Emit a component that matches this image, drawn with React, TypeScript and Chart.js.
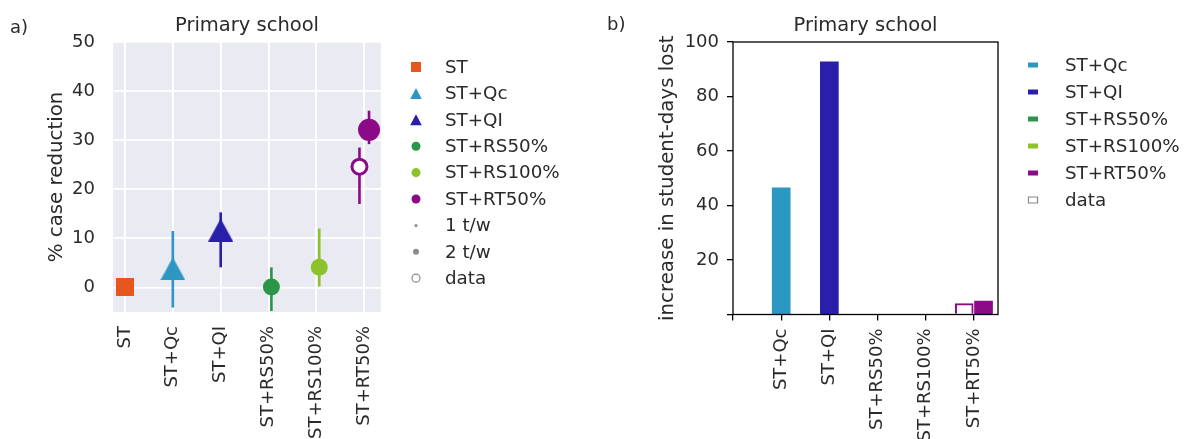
import React, { useEffect, useRef } from 'react';
import { Chart, registerables } from 'chart.js';

Chart.register(...registerables);

// ---------------- data ----------------
const categories = ['ST', 'ST+Qc', 'ST+QI', 'ST+RS50%', 'ST+RS100%', 'ST+RT50%'];

// panel a) % case reduction (model) with error range
const caseReduction = [0, 3.8, 11.7, 0.1, 4.1, 32.1];
const caseReductionLow = [null, -4.1, 4.1, -4.8, 0.2, 29.2];
const caseReductionHigh = [null, 11.5, 15.3, 4.1, 12.0, 36.0];
// panel a) observed data
const observedCaseReduction = [null, null, null, null, null, 24.6];
const observedCaseReductionLow = [null, null, null, null, null, 17.0];
const observedCaseReductionHigh = [null, null, null, null, null, 28.5];

// panel b) increase in student-days lost
const studentDaysLost = [0, 46.5, 92.7, 0, 0, 4.9];
const observedStudentDaysLost = [null, null, null, null, null, 4.0];

const yTicksA = [0, 10, 20, 30, 40, 50];
const yTicksB = [0, 20, 40, 60, 80, 100];

const legendA = ['ST', 'ST+Qc', 'ST+QI', 'ST+RS50%', 'ST+RS100%', 'ST+RT50%', '1 t/w', '2 t/w', 'data'];
const legendB = ['ST+Qc', 'ST+QI', 'ST+RS50%', 'ST+RS100%', 'ST+RT50%', 'data'];

// ---------------- styles ----------------
const colors = ['#e6561d', '#2c98c2', '#2a1fab', '#2b9647', '#8cc22b', '#8a0a87'];
const markerKinds = ['square', 'triangle', 'triangle', 'circle', 'circle', 'circle'];
const markerRadius = [9, 12, 12, 8.5, 8.5, 11];
const dodgeA = [0, 0, 0, 0.06, 0.06, 0.1];
const dodgeB = 0.2;
const FONT = "'DejaVu Sans', sans-serif";
const TXT = '#2a2a2a';
const TICK_SIZE = 18;
const TITLE_SIZE = 19.5;
const AXIS_TITLE_SIZE = 19.8;
const LEGEND_SIZE = 18.3;

function shapeImage(kind: string, color: string, w: number, h: number) {
  const c = document.createElement('canvas');
  c.width = w;
  c.height = h;
  const ctx = c.getContext('2d')!;
  ctx.fillStyle = color;
  ctx.beginPath();
  if (kind === 'triangle') {
    ctx.moveTo(w / 2, 0);
    ctx.lineTo(w, h);
    ctx.lineTo(0, h);
    ctx.closePath();
  } else {
    ctx.rect(0, 0, w, h);
  }
  ctx.fill();
  return c;
}

function drawLegendMarker(ctx: CanvasRenderingContext2D, kind: string, color: string, x: number, y: number, r: number) {
  ctx.save();
  ctx.fillStyle = color;
  ctx.strokeStyle = color;
  ctx.beginPath();
  if (kind === 'square') {
    ctx.rect(x - r, y - r, 2 * r, 2 * r);
    ctx.fill();
  } else if (kind === 'triangle') {
    ctx.moveTo(x, y - r);
    ctx.lineTo(x + r * 1.05, y + r);
    ctx.lineTo(x - r * 1.05, y + r);
    ctx.closePath();
    ctx.fill();
  } else if (kind === 'circle') {
    ctx.arc(x, y, r, 0, Math.PI * 2);
    ctx.fill();
  } else if (kind === 'hollowCircle') {
    ctx.lineWidth = 1.2;
    ctx.arc(x, y, r, 0, Math.PI * 2);
    ctx.fillStyle = '#fff';
    ctx.fill();
    ctx.stroke();
  } else if (kind === 'bar') {
    ctx.rect(x - 5, y - 2.5, 10, 5);
    ctx.fill();
  } else if (kind === 'hollowBar') {
    ctx.lineWidth = 1.2;
    ctx.rect(x - 4.5, y - 3, 9, 6);
    ctx.fillStyle = '#fff';
    ctx.fill();
    ctx.stroke();
  }
  ctx.restore();
}

function labelPlugin(id: string, text: string, x: number, y: number) {
  return {
    id,
    afterDraw(chart: any) {
      const ctx = chart.ctx;
      ctx.save();
      ctx.font = `18px ${FONT}`;
      ctx.fillStyle = TXT;
      ctx.textBaseline = 'middle';
      ctx.textAlign = 'left';
      ctx.fillText(text, x, y);
      ctx.restore();
    },
  };
}

function legendPlugin(id: string, items: { label: string; kind: string; color: string; r: number }[], mx: number, tx: number, y0: number, step: number) {
  return {
    id,
    afterDraw(chart: any) {
      const ctx = chart.ctx;
      ctx.save();
      ctx.font = `${LEGEND_SIZE}px ${FONT}`;
      ctx.textBaseline = 'middle';
      ctx.textAlign = 'left';
      items.forEach((it, i) => {
        const y = y0 + i * step;
        drawLegendMarker(ctx, it.kind, it.color, mx, y, it.r);
        ctx.fillStyle = TXT;
        ctx.fillText(it.label, tx, y + 1);
      });
      ctx.restore();
    },
  };
}

const bgPlugin = {
  id: 'bgA',
  beforeDraw(chart: any) {
    const { ctx, chartArea } = chart;
    ctx.save();
    ctx.fillStyle = '#eaeaf2';
    ctx.fillRect(chartArea.left, chartArea.top, chartArea.right - chartArea.left, chartArea.bottom - chartArea.top);
    ctx.restore();
  },
};

const framePlugin = {
  id: 'frameB',
  afterDraw(chart: any) {
    const { ctx, chartArea } = chart;
    ctx.save();
    ctx.strokeStyle = '#000';
    ctx.lineWidth = 1.3;
    ctx.strokeRect(chartArea.left, chartArea.top, chartArea.right - chartArea.left, chartArea.bottom - chartArea.top);
    ctx.restore();
  },
};

export default function App() {
  const refA = useRef<HTMLCanvasElement>(null);
  const refB = useRef<HTMLCanvasElement>(null);

  useEffect(() => {
    // ---------- panel a ----------
    const markerStyle = (i: number) => {
      const kind = markerKinds[i];
      if (kind === 'square') return shapeImage('square', colors[i], 18, 18);
      if (kind === 'triangle') return shapeImage('triangle', colors[i], 25, 23);
      return 'circle';
    };

    const datasetsA: any[] = [];
    // observed data (hollow circle)
    categories.forEach((c, i) => {
      if (observedCaseReduction[i] == null) return;
      datasetsA.push({
        type: 'line',
        label: c + ' data',
        data: [{ x: i - dodgeA[i], y: observedCaseReduction[i] }],
        showLine: false,
        pointStyle: 'circle',
        pointRadius: 7.5,
        pointBackgroundColor: '#ffffff',
        pointBorderColor: colors[i],
        pointBorderWidth: 3,
      });
    });
    // model markers
    categories.forEach((c, i) => {
      datasetsA.push({
        type: 'line',
        label: c,
        data: [{ x: i + dodgeA[i], y: caseReduction[i] }],
        showLine: false,
        pointStyle: markerStyle(i),
        pointRadius: markerRadius[i],
        pointBackgroundColor: colors[i],
        pointBorderWidth: 0,
      });
    });
    // error bars
    categories.forEach((c, i) => {
      if (caseReductionLow[i] != null) {
        datasetsA.push({
          type: 'line',
          label: c + ' range',
          data: [
            { x: i + dodgeA[i], y: caseReductionLow[i] },
            { x: i + dodgeA[i], y: caseReductionHigh[i] },
          ],
          borderColor: colors[i],
          borderWidth: 2.6,
          pointRadius: 0,
        });
      }
      if (observedCaseReductionLow[i] != null) {
        datasetsA.push({
          type: 'line',
          label: c + ' data range',
          data: [
            { x: i - dodgeA[i], y: observedCaseReductionLow[i] },
            { x: i - dodgeA[i], y: observedCaseReductionHigh[i] },
          ],
          borderColor: colors[i],
          borderWidth: 2.6,
          pointRadius: 0,
        });
      }
    });

    const itemsA = legendA.map((label, i) => {
      if (i < categories.length) {
        return { label, kind: markerKinds[i], color: colors[i], r: markerKinds[i] === 'circle' ? 4.5 : markerKinds[i] === 'triangle' ? 5.5 : 5 };
      }
      if (label === '1 t/w') return { label, kind: 'circle', color: '#8a8a8a', r: 1.5 };
      if (label === '2 t/w') return { label, kind: 'circle', color: '#8a8a8a', r: 3 };
      return { label, kind: 'hollowCircle', color: '#8a8a8a', r: 4 };
    });

    const tickFont = { family: FONT, size: TICK_SIZE };
    const titleFont = { family: FONT, size: AXIS_TITLE_SIZE };

    const chartA = new Chart(refA.current!, {
      type: 'line',
      data: { datasets: datasetsA },
      options: {
        animation: false,
        responsive: false,
        layout: { padding: { left: 0, right: 219, top: 0, bottom: 0 } },
        plugins: {
          legend: { display: false },
          tooltip: { enabled: false },
          title: {
            display: true,
            text: 'Primary school',
            fullSize: false,
            color: TXT,
            font: { family: FONT, size: TITLE_SIZE, weight: 'normal' },
            padding: { top: 14, bottom: 4.6 },
          },
        },
        scales: {
          x: {
            type: 'linear',
            min: -0.25,
            max: 5.35,
            afterBuildTicks: (s: any) => {
              s.ticks = categories.map((_, i) => ({ value: i }));
            },
            afterFit: (s: any) => {
              s.height = 127;
            },
            ticks: {
              autoSkip: false,
              minRotation: 90,
              maxRotation: 90,
              padding: 14,
              color: TXT,
              font: tickFont,
              callback: (v: any) => categories[v] ?? '',
            },
            grid: { color: '#ffffff', lineWidth: 1.8, drawTicks: false },
            border: { display: false },
          },
          y: {
            type: 'linear',
            min: -5,
            max: 50,
            afterBuildTicks: (s: any) => {
              s.ticks = yTicksA.map((v) => ({ value: v }));
            },
            afterFit: (s: any) => {
              s.width = 113;
            },
            ticks: { padding: 18, color: TXT, font: tickFont },
            grid: { color: '#ffffff', lineWidth: 1.8, drawTicks: false },
            border: { display: false },
            title: {
              display: true,
              text: '% case reduction',
              color: TXT,
              font: titleFont,
              padding: { top: 45, bottom: 0 },
            },
          },
        },
      } as any,
      plugins: [bgPlugin, labelPlugin('labA', 'a)', 10, 28), legendPlugin('legA', itemsA, 416, 445, 67, 26.4)],
    });

    // ---------- panel b ----------
    const datasetsB: any[] = [
      {
        type: 'bar',
        label: 'model',
        data: categories.map((_, i) => ({ x: i + (observedStudentDaysLost[i] != null ? dodgeB : 0), y: studentDaysLost[i] })),
        backgroundColor: colors,
        borderWidth: 0,
        barThickness: 18,
        grouped: false,
      },
      {
        type: 'bar',
        label: 'data',
        data: categories
          .map((_, i) => (observedStudentDaysLost[i] != null ? { x: i - dodgeB, y: observedStudentDaysLost[i] } : null))
          .filter((d) => d != null),
        backgroundColor: '#ffffff',
        borderColor: colors[5],
        borderWidth: 2,
        barThickness: 18,
        grouped: false,
      },
    ];

    const itemsB = legendB.map((label) => {
      const i = categories.indexOf(label);
      if (i >= 0) return { label, kind: 'bar', color: colors[i], r: 5 };
      return { label, kind: 'hollowBar', color: '#8a8a8a', r: 5 };
    });

    const chartB = new Chart(refB.current!, {
      type: 'bar',
      data: { datasets: datasetsB },
      options: {
        animation: false,
        responsive: false,
        layout: { padding: { left: 0, right: 189, top: 0, bottom: 0 } },
        plugins: {
          legend: { display: false },
          tooltip: { enabled: false },
          title: {
            display: true,
            text: 'Primary school',
            fullSize: false,
            color: TXT,
            font: { family: FONT, size: TITLE_SIZE, weight: 'normal' },
            padding: { top: 14, bottom: 4.6 },
          },
        },
        scales: {
          x: {
            type: 'linear',
            min: 0,
            max: 5.5,
            offset: false,
            afterBuildTicks: (s: any) => {
              s.ticks = categories.map((_, i) => ({ value: i }));
            },
            afterFit: (s: any) => {
              s.height = 124.5;
            },
            ticks: {
              autoSkip: false,
              minRotation: 90,
              maxRotation: 90,
              padding: 8,
              color: TXT,
              font: tickFont,
              callback: (v: any) => (v === 0 ? '' : categories[v] ?? ''),
            },
            grid: { drawOnChartArea: false, drawTicks: true, tickLength: 6, color: '#000', lineWidth: 1.3, offset: false },
            border: { display: false },
          },
          y: {
            type: 'linear',
            min: 0,
            max: 100,
            afterBuildTicks: (s: any) => {
              s.ticks = yTicksB.map((v) => ({ value: v }));
            },
            afterFit: (s: any) => {
              s.width = 133;
            },
            ticks: { padding: 8, color: TXT, font: tickFont, callback: (v: any) => (v === 0 ? '' : String(v)) },
            grid: { drawOnChartArea: false, drawTicks: true, tickLength: 6, color: '#000', lineWidth: 1.3 },
            border: { display: false },
            title: {
              display: true,
              text: 'increase in student-days lost',
              color: TXT,
              font: titleFont,
              padding: { top: 56, bottom: 0 },
            },
          },
        },
      } as any,
      plugins: [framePlugin, labelPlugin('labB', 'b)', 7, 25), legendPlugin('legB', itemsB, 433, 465, 65, 27)],
    });

    return () => {
      chartA.destroy();
      chartB.destroy();
    };
  }, []);

  return (
    <div style={{ position: 'absolute', left: 0, top: 0, width: 1187, height: 439, background: '#fff' }}>
      <canvas ref={refA} width={600} height={439} style={{ position: 'absolute', left: 0, top: 0 }} />
      <canvas ref={refB} width={587} height={439} style={{ position: 'absolute', left: 600, top: 0 }} />
    </div>
  );
}
